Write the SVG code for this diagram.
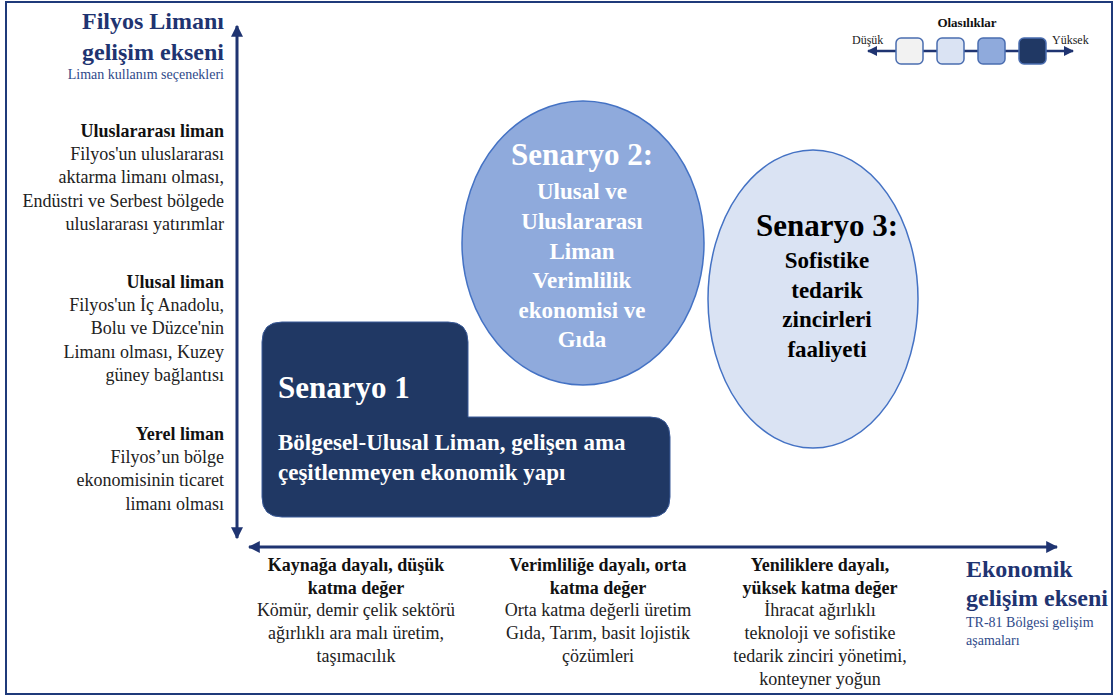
<svg xmlns="http://www.w3.org/2000/svg" width="1115" height="695" viewBox="0 0 1115 695">
<style>
text{font-family:"Liberation Serif","Times New Roman",serif;}
.ttl{font-size:24px;font-weight:bold;fill:#1f3471;}
.sub{font-size:14px;fill:#2f4a8a;}
.hd{font-size:18px;font-weight:bold;fill:#111;}
.bd{font-size:18px;fill:#222;}
.r{text-anchor:end;}
.m{text-anchor:middle;}
.axis{stroke:#1f3471;stroke-width:3;fill:none;}
.leg{stroke:#4a6db0;stroke-width:1.5;}
.big{font-size:31px;}
.mid{font-size:23px;}
</style>
<defs>
<marker id="ah" viewBox="0 0 10 10" refX="9" refY="5" markerWidth="4" markerHeight="4" orient="auto-start-reverse" markerUnits="strokeWidth">
<path d="M0,0 L10,5 L0,10 Z" fill="#1f3471"/>
</marker>
</defs>
<rect x="0" y="0" width="1115" height="695" fill="#ffffff"/>
<rect x="6" y="2" width="1106" height="692" fill="none" stroke="#1f3a7a" stroke-width="2"/>

<g id="connectors">
<line class="axis" x1="237" y1="538" x2="237" y2="26" marker-start="url(#ah)" marker-end="url(#ah)"/>
<line class="axis" x1="249" y1="547" x2="1057" y2="547" marker-start="url(#ah)" marker-end="url(#ah)"/>
</g>

<g id="y-axis-title">
<text class="ttl r" x="224" y="29">Filyos Limanı</text>
<text class="ttl r" x="224" y="60">gelişim ekseni</text>
<text class="sub r" x="224" y="79">Liman kullanım seçenekleri</text>
</g>

<g id="y-uluslararasi">
<text class="hd r" x="224" y="137">Uluslararası liman</text>
<text class="bd r" x="224" y="160">Filyos'un uluslararası</text>
<text class="bd r" x="224" y="183">aktarma limanı olması,</text>
<text class="bd r" x="224" y="207">Endüstri ve Serbest bölgede</text>
<text class="bd r" x="224" y="230">uluslararası yatırımlar</text>
</g>

<g id="y-ulusal">
<text class="hd r" x="224" y="288">Ulusal liman</text>
<text class="bd r" x="224" y="311">Filyos'un İç Anadolu,</text>
<text class="bd r" x="224" y="334">Bolu ve Düzce'nin</text>
<text class="bd r" x="224" y="358">Limanı olması, Kuzey</text>
<text class="bd r" x="224" y="381">güney bağlantısı</text>
</g>

<g id="y-yerel">
<text class="hd r" x="224" y="440">Yerel liman</text>
<text class="bd r" x="224" y="463">Filyos’un bölge</text>
<text class="bd r" x="224" y="486">ekonomisinin ticaret</text>
<text class="bd r" x="224" y="510">limanı olması</text>
</g>

<g id="x-kaynak">
<text class="hd m" x="356" y="571">Kaynağa dayalı, düşük</text>
<text class="hd m" x="356" y="594">katma değer</text>
<text class="bd m" x="356" y="616">Kömür, demir çelik sektörü</text>
<text class="bd m" x="356" y="639">ağırlıklı ara malı üretim,</text>
<text class="bd m" x="356" y="662">taşımacılık</text>
</g>

<g id="x-verimlilik">
<text class="hd m" x="598" y="571">Verimliliğe dayalı, orta</text>
<text class="hd m" x="598" y="594">katma değer</text>
<text class="bd m" x="598" y="616">Orta katma değerli üretim</text>
<text class="bd m" x="598" y="639">Gıda, Tarım, basit lojistik</text>
<text class="bd m" x="598" y="662">çözümleri</text>
</g>

<g id="x-yenilik">
<text class="hd m" x="820" y="571">Yeniliklere dayalı,</text>
<text class="hd m" x="820" y="594">yüksek katma değer</text>
<text class="bd m" x="820" y="616">İhracat ağırlıklı</text>
<text class="bd m" x="820" y="639">teknoloji ve sofistike</text>
<text class="bd m" x="820" y="662">tedarik zinciri yönetimi,</text>
<text class="bd m" x="820" y="685">konteyner yoğun</text>
</g>

<g id="x-axis-title">
<text class="ttl" x="966" y="577">Ekonomik</text>
<text class="ttl" x="966" y="606">gelişim ekseni</text>
<text class="sub" x="966" y="627">TR-81 Bölgesi gelişim</text>
<text class="sub" x="966" y="645">aşamaları</text>
</g>

<g id="legend">
<text x="967" y="27" text-anchor="middle" style="font-size:13px;font-weight:bold;fill:#111">Olasılıklar</text>
<text x="852" y="44" style="font-size:12px;fill:#222">Düşük</text>
<text x="1052" y="44" style="font-size:12px;fill:#222">Yüksek</text>
<line x1="868" y1="51" x2="1073" y2="51" stroke="#1f3471" stroke-width="2.5" marker-start="url(#ah)" marker-end="url(#ah)"/>
<rect class="leg" x="896" y="38" width="27" height="26" rx="5" fill="#f2f2f2"/>
<rect class="leg" x="937" y="38" width="27" height="26" rx="5" fill="#dae3f3"/>
<rect class="leg" x="978" y="38" width="27" height="26" rx="5" fill="#8faadc"/>
<rect class="leg" x="1019" y="38" width="27" height="26" rx="5" fill="#203864"/>
</g>

<g id="senaryo1">
<path d="M282,322 H448 Q468,322 468,342 V417 H650 Q670,417 670,437 V497 Q670,517 650,517 H282 Q262,517 262,497 V342 Q262,322 282,322 Z" fill="#203864" stroke="#3a5a98" stroke-width="1"/>
<text class="big" x="278" y="398" style="font-weight:bold;fill:#ffffff">Senaryo 1</text>
<text class="mid" x="278" y="450" style="font-weight:bold;fill:#ffffff">Bölgesel-Ulusal Liman, gelişen ama</text>
<text class="mid" x="278" y="480" style="font-weight:bold;fill:#ffffff">çeşitlenmeyen ekonomik yapı</text>
</g>

<g id="senaryo2">
<ellipse cx="583" cy="243" rx="121" ry="142" fill="#8faadc" stroke="#4472c4" stroke-width="1.5"/>
<g text-anchor="middle" style="font-weight:bold;fill:#ffffff">
<text class="big" x="582" y="165">Senaryo 2:</text>
<text class="mid" x="582" y="199">Ulusal ve</text>
<text class="mid" x="582" y="229">Uluslararası</text>
<text class="mid" x="582" y="259">Liman</text>
<text class="mid" x="582" y="288">Verimlilik</text>
<text class="mid" x="582" y="318">ekonomisi ve</text>
<text class="mid" x="582" y="347">Gıda</text>
</g>
</g>

<g id="senaryo3">
<ellipse cx="813" cy="299" rx="105" ry="149" fill="#dae3f3" stroke="#4472c4" stroke-width="1.5"/>
<g text-anchor="middle" style="font-weight:bold;fill:#000000">
<text class="big" x="827" y="236">Senaryo 3:</text>
<text class="mid" x="827" y="268">Sofistike</text>
<text class="mid" x="827" y="298">tedarik</text>
<text class="mid" x="827" y="327">zincirleri</text>
<text class="mid" x="827" y="357">faaliyeti</text>
</g>
</g>
</svg>
